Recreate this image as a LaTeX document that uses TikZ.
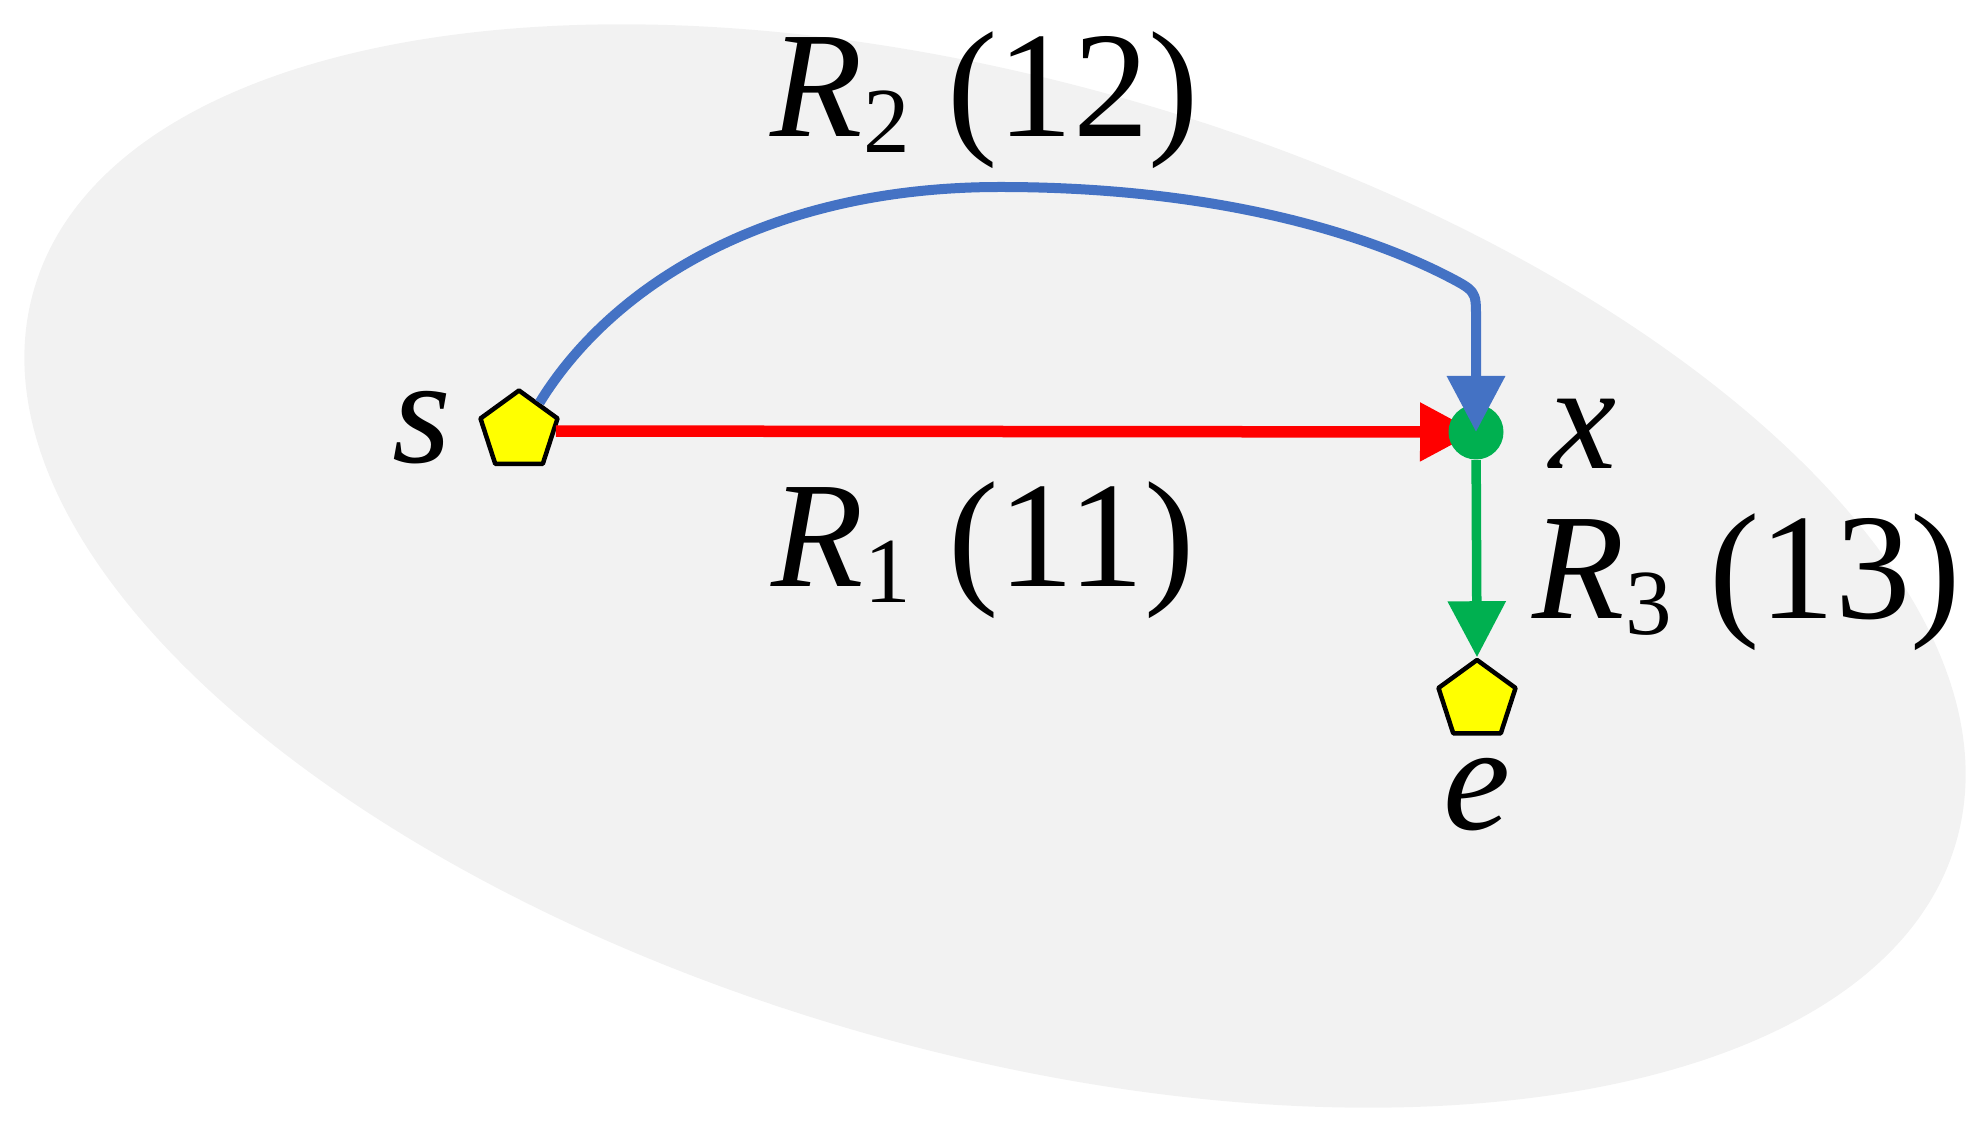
\documentclass[tikz,border=0pt]{standalone}
\usepackage{fontspec}
\setmainfont{Liberation Serif}
\usetikzlibrary{shapes.geometric,arrows.meta}
\definecolor{regiongray}{HTML}{F2F2F2}
\definecolor{routered}{HTML}{FF0000}
\definecolor{routeblue}{HTML}{4472C4}
\definecolor{routegreen}{HTML}{00B050}
\definecolor{stopyellow}{HTML}{FFFF00}
\newcommand{\route}[2]{\textit{R}\raisebox{-0.16cm}{\fontsize{26.5}{30}\selectfont #1} (#2)}

\begin{document}
\begin{tikzpicture}[line join=round, >={Triangle[length=0.56cm,width=0.56cm]},
	stop/.style={regular polygon, regular polygon sides=5, minimum size=0.81cm, inner sep=0pt, draw=black, line width=0.045cm, fill=stopyellow},
	dot/.style={circle, minimum size=0.55cm, inner sep=0pt, fill=routegreen},
	lbl/.style={inner sep=0pt, font=\fontsize{43}{50}\selectfont}]
	\useasboundingbox (0,0) rectangle (19.86,11.37);
	% region
	\fill[regiongray, rotate around={-16:(9.95,5.71)}] (9.95,5.71) ellipse (10cm and 4.85cm);
	% stops
	\node[stop] (s) at (5.19,7.06) {};
	\node[stop] (e) at (14.77,4.365) {};
	\coordinate (xc) at (14.76,7.05);
	% R1, under the dot
	\draw[routered, line width=0.115cm, ->] (s) -- (xc);
	\node[dot] (x) at (xc) {};
	% R2
	\draw[routeblue, line width=0.1cm, ->] (s.54) .. controls (6.08,8.46) and (7.6,9.5) .. (10,9.5) .. controls (12,9.5) and (13.5,9.1) .. (14.45,8.62) .. controls (14.76,8.46) .. (14.76,8.2) -- (x.center);
	% R3
	\draw[routegreen, line width=0.095cm, ->] (x) -- (e.corner 1);
	% labels
	\node[lbl, anchor=base] (ls) at (4.22,6.74) {\textit{s}};
	\node[lbl, anchor=base] (lx) at (15.83,6.68) {\textit{x}};
	\node[lbl, anchor=base] (le) at (14.77,3.08) {\textit{e}};
	\node[lbl, anchor=base west] (lr2) at (7.70,10.00) {\route{2}{12}};
	\node[lbl, anchor=base west] (lr1) at (7.71,5.50) {\route{1}{11}};
	\node[lbl, anchor=base west] (lr3) at (15.32,5.18) {\route{3}{13}};
\end{tikzpicture}
\end{document}
